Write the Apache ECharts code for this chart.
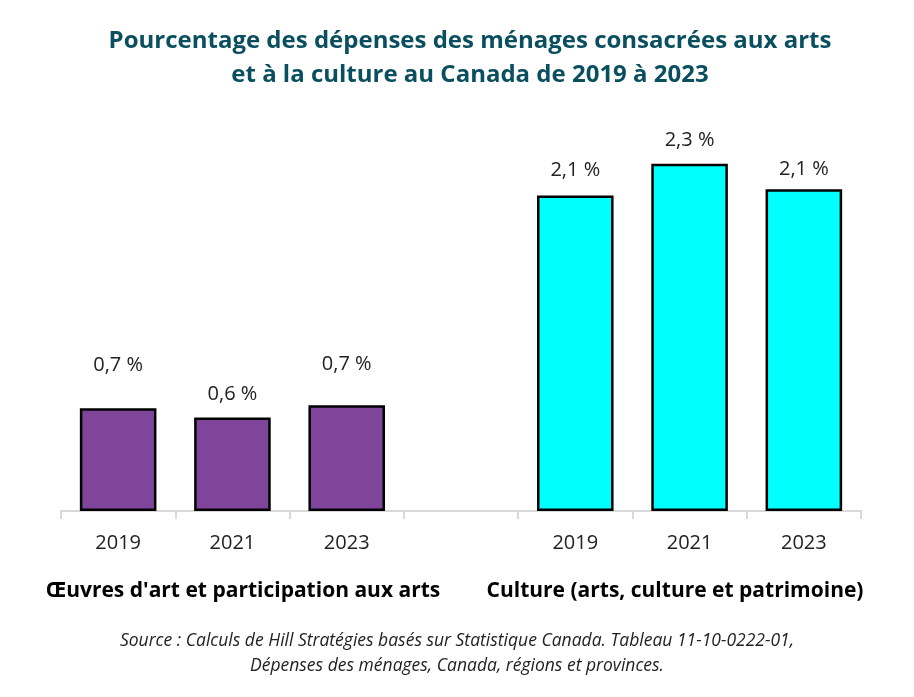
<!DOCTYPE html>
<html>
<head>
<meta charset="utf-8">
<script src="https://cdn.jsdelivr.net/npm/echarts@6/dist/echarts.min.js"></script>
<style>
    html, body {
        margin: 0;
        padding: 0;
        background: #fff;
    }

    #chart {
        width: 914px;
        height: 697px;
    }
</style>
</head>
<body>
<div id="chart"></div>
<script>
    // donnees
    var years = ['2019', '2021', '2023'];
    var oeuvresValues = [0.68, 0.62, 0.70];
    var cultureValues = [2.09, 2.30, 2.13];
    var groupNames = ["Œuvres d'art et participation aux arts", 'Culture (arts, culture et patrimoine)'];

    // decalage des etiquettes (comme dans l'original)
    var oeuvresLabelGap = [33, 13, 31];
    var cultureLabelGap = [15, 13, 10];

    var categories = years.concat(['']).concat(years);
    var oeuvresData = [];
    var cultureData = [];
    for (var i = 0; i < categories.length; i++) {
        oeuvresData.push('-');
        cultureData.push('-');
    }
    oeuvresValues.forEach(function (v, i) {
        oeuvresData[i] = { value: v, label: { distance: oeuvresLabelGap[i] } };
    });
    cultureValues.forEach(function (v, i) {
        cultureData[i + 4] = { value: v, label: { distance: cultureLabelGap[i] } };
    });

    var fontFam = '"Open Sans", "Noto Sans", sans-serif';

    function pct(p) {
        return p.value.toFixed(1).replace('.', ',') + ' %';
    }

    var chart = echarts.init(document.getElementById('chart'));
    var option = {
        backgroundColor: '#fff',
        animation: false,
        textStyle: { fontFamily: fontFam },
        title: {
            text: 'Pourcentage des dépenses des ménages consacrées aux arts\net à la culture au Canada de 2019 à 2023',
            left: 465,
            top: 19,
            textAlign: 'center',
            textStyle: {
                color: '#0a4f5f',
                fontSize: 24,
                fontWeight: 'bold',
                lineHeight: 34,
                fontFamily: fontFam
            }
        },
        grid: {
            left: 61,
            right: 53,
            top: 133.5,
            bottom: 186
        },
        xAxis: {
            type: 'category',
            data: categories,
            boundaryGap: true,
            axisLine: { lineStyle: { color: '#d9d9d9', width: 2 } },
            axisTick: { show: true, length: 8, lineStyle: { color: '#d9d9d9', width: 2 } },
            axisLabel: { color: '#222', fontSize: 20, margin: 22, fontFamily: fontFam }
        },
        yAxis: {
            type: 'value',
            min: 0,
            max: 2.5,
            show: false,
            splitLine: { show: false }
        },
        series: [{
            name: groupNames[0],
            type: 'bar',
            barWidth: '67%',
            barGap: '-100%',
            data: oeuvresData,
            itemStyle: { color: '#7e459a', borderColor: '#000', borderWidth: 2.5 },
            label: {
                show: true,
                position: 'top',
                color: '#222',
                fontSize: 20,
                fontFamily: fontFam,
                formatter: pct
            }
        }, {
            name: groupNames[1],
            type: 'bar',
            barWidth: '67%',
            barGap: '-100%',
            data: cultureData,
            itemStyle: { color: '#00ffff', borderColor: '#000', borderWidth: 2.5 },
            label: {
                show: true,
                position: 'top',
                color: '#222',
                fontSize: 20,
                fontFamily: fontFam,
                formatter: pct
            }
        }],
        graphic: [{
            type: 'text',
            x: 243,
            y: 591,
            style: {
                text: groupNames[0],
                fill: '#000',
                font: 'bold 21px ' + fontFam,
                align: 'center',
                verticalAlign: 'middle'
            }
        }, {
            type: 'text',
            x: 675,
            y: 591,
            style: {
                text: groupNames[1],
                fill: '#000',
                font: 'bold 21px ' + fontFam,
                align: 'center',
                verticalAlign: 'middle'
            }
        }, {
            type: 'text',
            x: 457,
            y: 654,
            style: {
                text: 'Source : Calculs de Hill Stratégies basés sur Statistique Canada. Tableau 11-10-0222-01,\nDépenses des ménages, Canada, régions et provinces.',
                fill: '#222',
                font: 'italic 17.5px ' + fontFam,
                lineHeight: 25,
                align: 'center',
                verticalAlign: 'middle'
            }
        }]
    };
    chart.setOption(option);
</script>
</body>
</html>
